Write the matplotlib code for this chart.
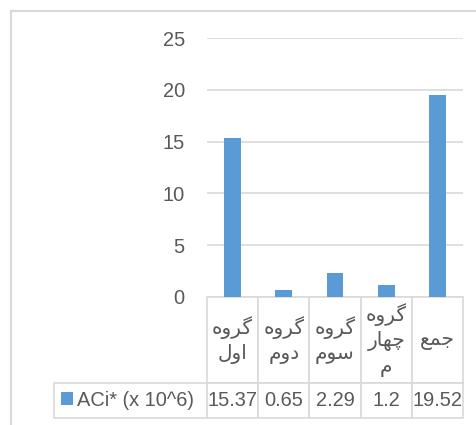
import matplotlib
matplotlib.use("Agg")
import matplotlib.pyplot as plt
from matplotlib.table import Table
from matplotlib.patches import Rectangle

# data
categories = ["گروه\nاول", "گروه\nدوم", "گروه\nسوم", "گروه\nچهار\nم", "جمع"]
values = [15.37, 0.65, 2.29, 1.2, 19.52]
series_name = "ACi* (x 10^6)"
yticks = [0, 5, 10, 15, 20, 25]

BAR = "#5b9bd5"
GRID = "#d9d9d9"
TXT = "#595959"

# matplotlib has no arabic shaping, so pick presentation forms by hand
# letter -> (isolated, final, initial, medial)
FORMS = {
    "ا": ("\uFE8D", "\uFE8E", None, None),
    "ر": ("\uFEAD", "\uFEAE", None, None),
    "و": ("\uFEED", "\uFEEE", None, None),
    "د": ("\uFEA9", "\uFEAA", None, None),
    "گ": ("\uFB92", "\uFB93", "\uFB94", "\uFB95"),
    "چ": ("\uFB7A", "\uFB7B", "\uFB7C", "\uFB7D"),
    "س": ("\uFEB1", "\uFEB2", "\uFEB3", "\uFEB4"),
    "ه": ("\uFEE9", "\uFEEA", "\uFEEB", "\uFEEC"),
    "م": ("\uFEE1", "\uFEE2", "\uFEE3", "\uFEE4"),
    "ج": ("\uFE9D", "\uFE9E", "\uFE9F", "\uFEA0"),
    "ع": ("\uFEC9", "\uFECA", "\uFECB", "\uFECC"),
    "ل": ("\uFEDD", "\uFEDE", "\uFEDF", "\uFEE0"),
}


def dual(ch):
    return ch in FORMS and FORMS[ch][2] is not None


def shape_word(word):
    out = []
    for i, ch in enumerate(word):
        prev_j = i > 0 and dual(word[i - 1])
        next_j = dual(ch) and i + 1 < len(word) and word[i + 1] in FORMS
        iso, fin, ini, med = FORMS[ch]
        if prev_j and next_j:
            out.append(med)
        elif prev_j:
            out.append(fin)
        elif next_j:
            out.append(ini)
        else:
            out.append(iso)
    return "".join(reversed(out))


def shape(text):
    return "\n".join(shape_word(line) for line in text.split("\n"))


plt.rcParams["font.family"] = ["Liberation Sans", "DejaVu Sans"]

W, H = 477, 425
fig = plt.figure(figsize=(W / 100, H / 100), dpi=100)
ax = fig.add_axes([207 / W, 1 - 297 / H, 256 / W, 259 / H])

x = range(len(values))
bars = ax.bar(x, values, width=0.33, color=BAR, zorder=3, label=series_name)

ax.set_xlim(-0.5, len(values) - 0.5)
ax.set_ylim(0, 25)
ax.set_yticks(yticks)
ax.set_xticks([])
ax.tick_params(axis="y", length=0, pad=16, labelsize=14.4, labelcolor=TXT)
ax.grid(axis="y", color=GRID, linewidth=1.2, zorder=0)
for s in ax.spines.values():
    s.set_visible(False)

# data table under the plot
col0_w, col_w = 153, 51.2
head_h, row_h = 86, 35
tab_w = col0_w + col_w * len(values)
tab_h = head_h + row_h
tab = Table(ax, bbox=[(54 - 207) / 256, -tab_h / 259, tab_w / 256, tab_h / 259])

c = tab.add_cell(0, 0, width=col0_w, height=head_h, text="")
c.visible_edges = ""
for j, lab in enumerate(categories):
    c = tab.add_cell(0, j + 1, width=col_w, height=head_h, text=shape(lab), loc="center")
    c.get_text().set_fontfamily("DejaVu Sans")
    c.get_text().set_linespacing(1.35)
tab.add_cell(1, 0, width=col0_w, height=row_h, text="")
for j, v in enumerate(values):
    tab.add_cell(1, j + 1, width=col_w, height=row_h, text=str(v), loc="center")

tab.auto_set_font_size(False)
tab.set_fontsize(14.4)
for (r, cidx), cell in tab.get_celld().items():
    cell.set_edgecolor(GRID)
    cell.set_linewidth(1.2)
    cell.get_text().set_color(TXT)
    if r == 0 and cidx > 0:
        cell.get_text().set_fontsize(14.5)
ax.add_table(tab)

# legend key inside the first table cell
ax.legend(handles=[bars], loc="center left",
          bbox_to_anchor=((61 - 207) / 256, (297 - 400) / 259),
          frameon=False, fontsize=14.4, handlelength=0.6, handleheight=0.6,
          handletextpad=0.2, borderpad=0, borderaxespad=0, labelcolor=TXT)

# outer chart frame (cut by the image edge on the right and bottom)
fig.patches.append(Rectangle((11 / W, -0.1), 2, 1.1 - 11 / H, transform=fig.transFigure,
                             fill=False, edgecolor=GRID, linewidth=1.5))

fig.savefig("out.png", dpi=100)
